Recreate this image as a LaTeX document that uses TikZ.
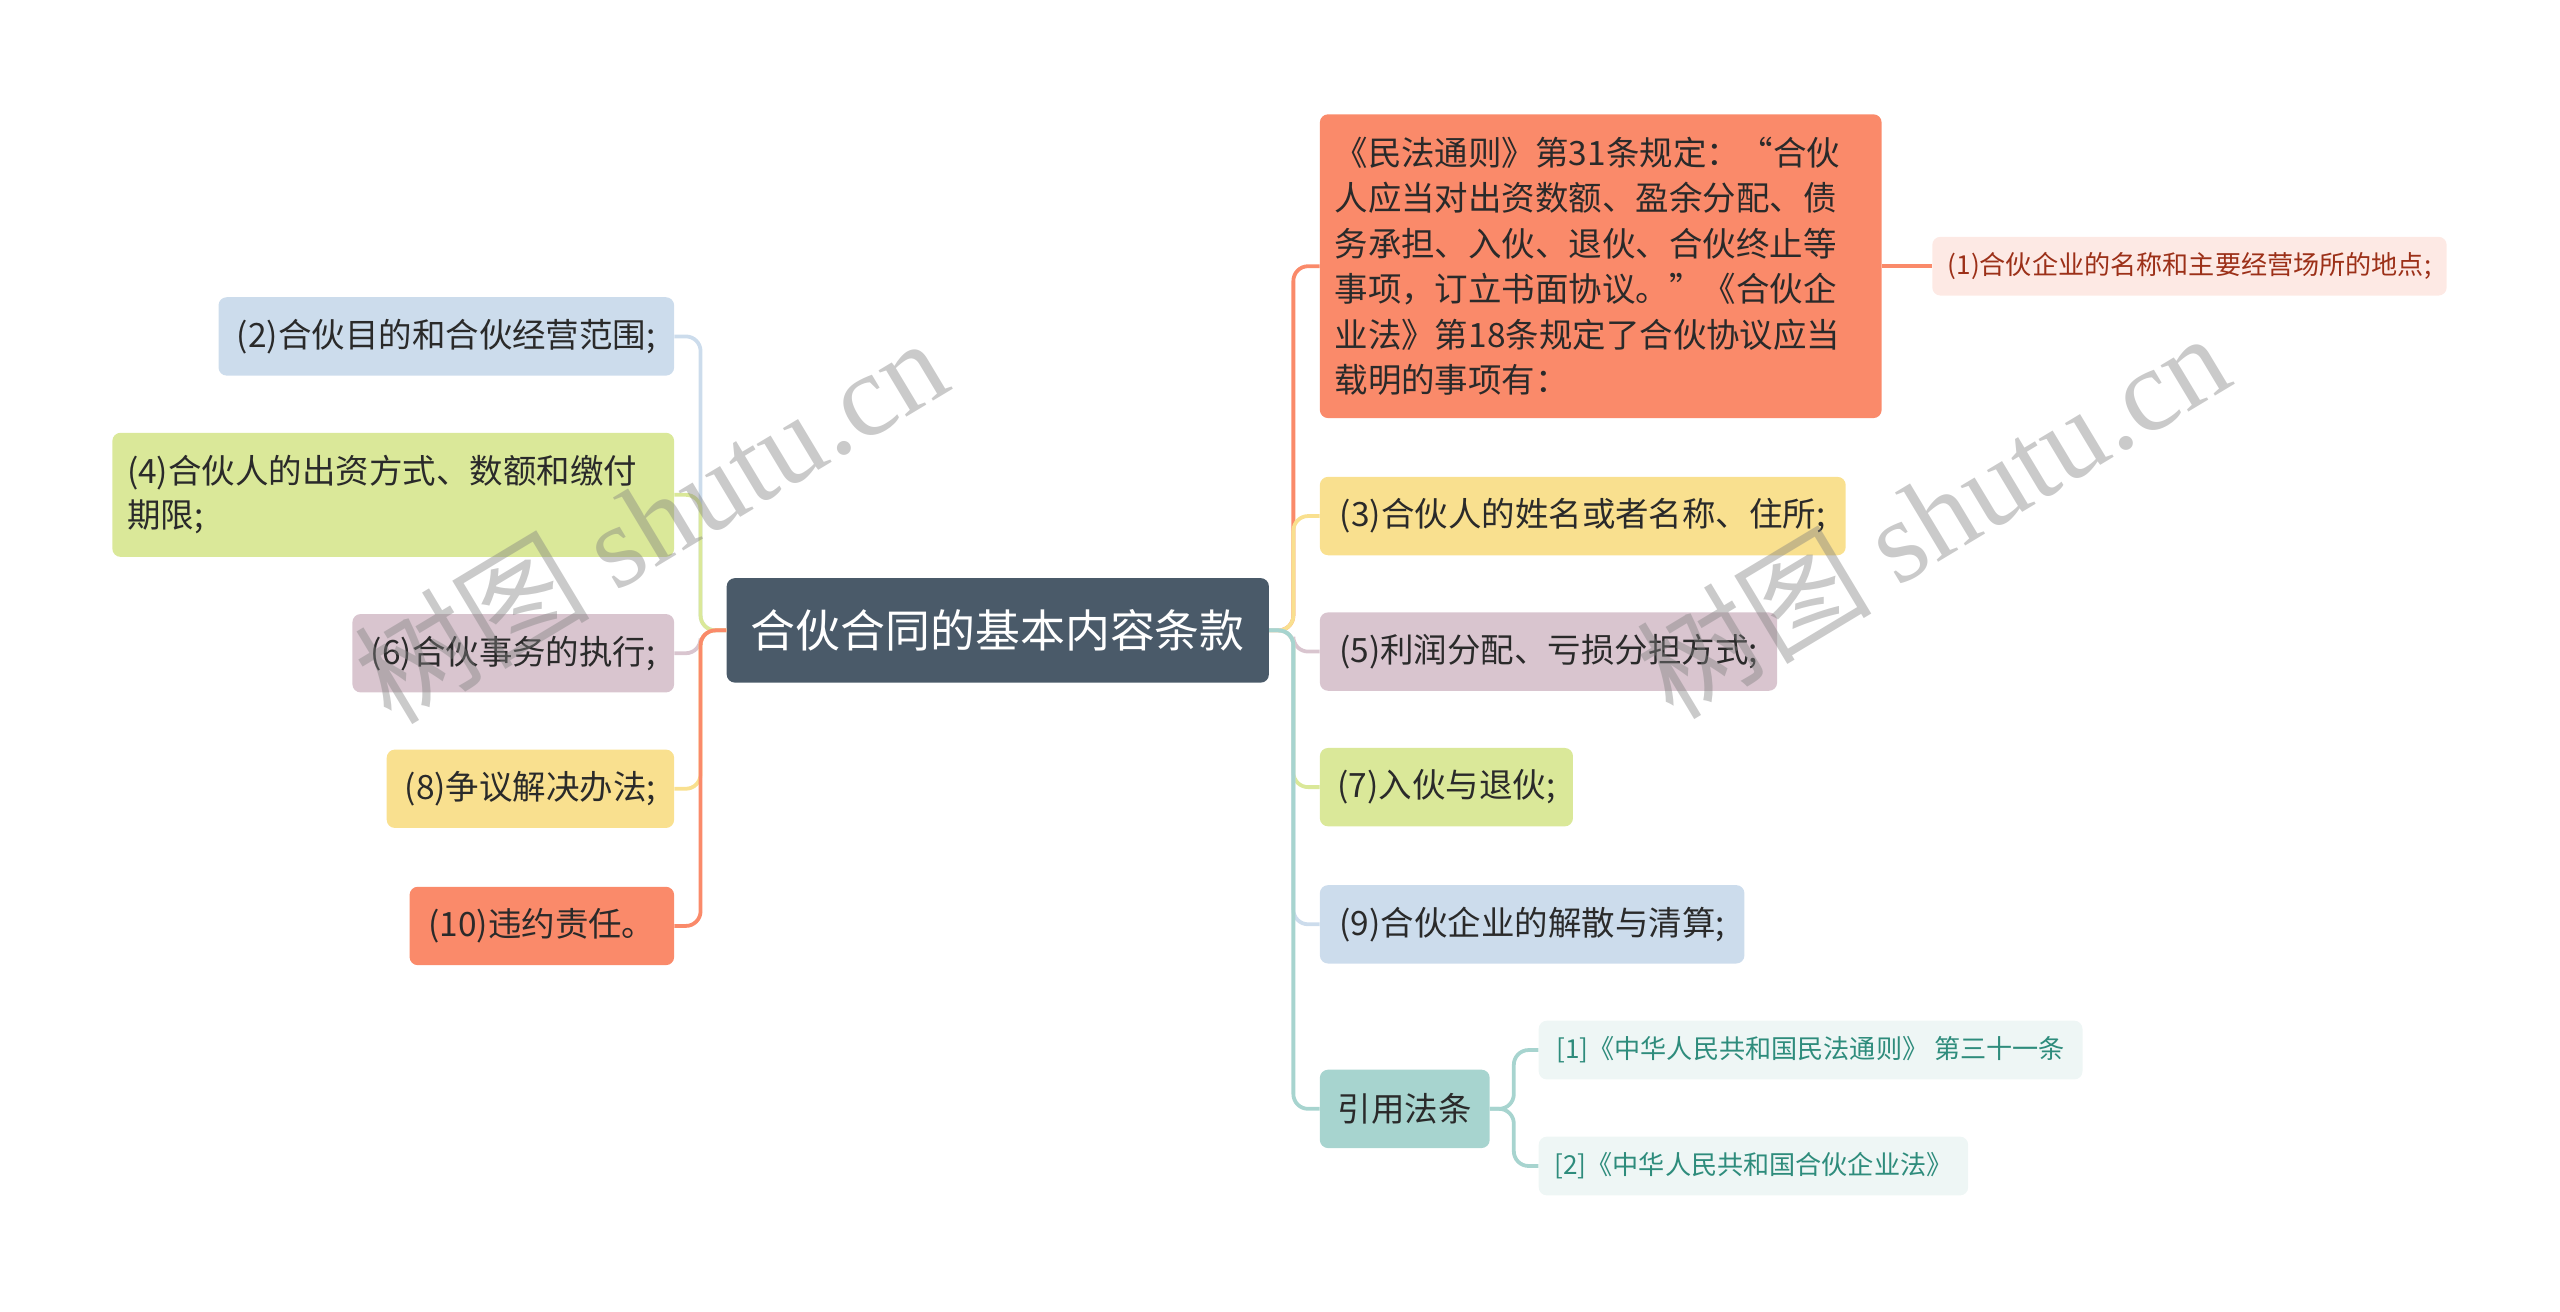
\documentclass[tikz,border=0pt]{standalone}
\usepackage{fontspec}
\setmainfont{Noto Sans CJK SC}
\newfontfamily\wmserif{Liberation Serif}
\definecolor{rootc}{HTML}{4A5A69}
\definecolor{bluec}{HTML}{CCDCEC}
\definecolor{greenc}{HTML}{DAE899}
\definecolor{mauvec}{HTML}{D9C5CF}
\definecolor{yellowc}{HTML}{F9E08F}
\definecolor{salmonc}{HTML}{FA8A6A}
\definecolor{pinkc}{HTML}{FDE9E4}
\definecolor{pinktext}{HTML}{9C3018}
\definecolor{tealc}{HTML}{A7D4CF}
\definecolor{tealfill}{HTML}{EEF6F5}
\definecolor{tealtext}{HTML}{2E8C7C}
\definecolor{txt}{HTML}{2A2A2A}
\tikzset{
  box/.style={rounded corners=5pt, inner xsep=8pt, inner ysep=0pt, minimum height=48pt,
    text=txt, font=\fontsize{20.5}{27}\selectfont, align=center},
  smallbox/.style={box, minimum height=36pt, font=\fontsize{16}{20}\selectfont},
  conn/.style={line width=2.3pt, rounded corners=9pt},
  wm/.style={text=gray, opacity=0.42, rotate=31, font=\fontsize{72}{72}\selectfont}
}
\begin{document}
\begin{tikzpicture}[x=1pt,y=-1pt,scale=0.9945,transform shape]
\useasboundingbox (0,0) rectangle (1567.6,802.8);
% root
\node[box, fill=rootc, text=white, minimum width=332pt, minimum height=64pt,
  font=\fontsize{27.5}{32}\selectfont] (root) at (611,386) {合伙合同的基本内容条款};
% left nodes
\node[box, fill=bluec, anchor=east, minimum width=279pt] (l2) at (413,206) {(2)合伙目的和合伙经营范围;};
\node[box, fill=greenc, anchor=east, minimum width=344pt, minimum height=76pt, align=left, text width=326pt] (l4) at (413,303) {(4)合伙人的出资方式、数额和缴付\\期限;};
\node[box, fill=mauvec, anchor=east, minimum width=197pt] (l6) at (413,400) {(6)合伙事务的执行;};
\node[box, fill=yellowc, anchor=east, minimum width=176pt] (l8) at (413,483) {(8)争议解决办法;};
\node[box, fill=salmonc, anchor=east, minimum width=162pt] (l10) at (413,567) {(10)违约责任。};
% right nodes
\node[box, fill=salmonc, anchor=west, minimum width=344pt, minimum height=186pt, align=left, text width=326pt, font=\fontsize{20.5}{27.8}\selectfont] (big) at (808,163)
  {《民法通则》第31条规定：“合伙\\人应当对出资数额、盈余分配、债\\务承担、入伙、退伙、合伙终止等\\事项，订立书面协议。”《合伙企\\业法》第18条规定了合伙协议应当\\载明的事项有：};
\node[smallbox, fill=pinkc, text=pinktext, anchor=west, minimum width=315pt] (p1) at (1183,163) {(1)合伙企业的名称和主要经营场所的地点;};
\node[box, fill=yellowc, anchor=west, minimum width=322pt] (r3) at (808,316) {(3)合伙人的姓名或者名称、住所;};
\node[box, fill=mauvec, anchor=west, minimum width=280pt] (r5) at (808,399) {(5)利润分配、亏损分担方式;};
\node[box, fill=greenc, anchor=west, minimum width=155pt] (r7) at (808,482) {(7)入伙与退伙;};
\node[box, fill=bluec, anchor=west, minimum width=260pt] (r9) at (808,566) {(9)合伙企业的解散与清算;};
\node[box, fill=tealc, anchor=west, minimum width=104pt] (cite) at (808,679) {引用法条};
\node[smallbox, fill=tealfill, text=tealtext, anchor=west, minimum width=333pt] (c1) at (942,643) {[1]《中华人民共和国民法通则》 第三十一条};
\node[smallbox, fill=tealfill, text=tealtext, anchor=west, minimum width=263pt] (c2) at (942,714) {[2]《中华人民共和国合伙企业法》};
% trunks
\coordinate (LT) at (429,386);
\coordinate (RT) at (792,386);
\coordinate (CT) at (927,679);
% left connectors
\draw[conn, bluec] (root.west) -- (LT) |- (l2.east);
\draw[conn, greenc] (root.west) -- (LT) |- (l4.east);
\draw[conn, mauvec] (root.west) -- (LT) |- (l6.east);
\draw[conn, yellowc] (root.west) -- (LT) |- (l8.east);
\draw[conn, salmonc] (root.west) -- (LT) |- (l10.east);
% right connectors
\draw[conn, salmonc] (root.east) -- (RT) |- (big.west);
\draw[conn, yellowc] (root.east) -- (RT) |- (r3.west);
\draw[conn, mauvec] (root.east) -- (RT) |- (r5.west);
\draw[conn, greenc] (root.east) -- (RT) |- (r7.west);
\draw[conn, bluec] (root.east) -- (RT) |- (r9.west);
\draw[conn, tealc] (root.east) -- (RT) |- (cite.west);
\draw[conn, salmonc] (big.east) -- (p1.west);
\draw[conn, tealc] (cite.east) -- (CT) |- (c1.west);
\draw[conn, tealc] (cite.east) -- (CT) |- (c2.west);
% watermarks
\node[wm] (wm1) at (398,318) {树图 {\wmserif shutu.cn}};
\node[wm] (wm2) at (1183,315) {树图 {\wmserif shutu.cn}};
\end{tikzpicture}
\end{document}
